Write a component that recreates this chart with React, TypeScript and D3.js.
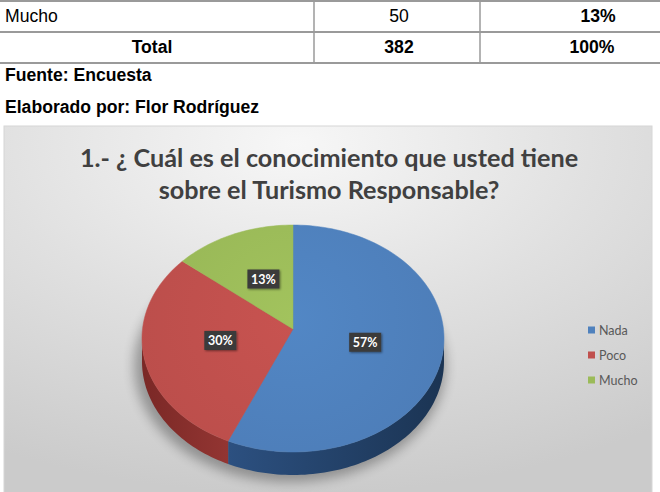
import React from 'react';
import * as d3 from 'd3';

const categories = ['Nada', 'Poco', 'Mucho'];
const counts = [218, 114, 50];
const percentLabels = ['57%', '30%', '13%'];
const topColors = ['#4F81BD', '#C0504D', '#9BBB59'];
const sideDark = ['#1B3453', '#7A2826', '#6E8A3A'];
const sideLight = ['#2C5080', '#933532', '#86A548'];

const tableRow = ['Mucho', '50', '13%'];
const tableTotal = ['Total', '382', '100%'];
const noteLines = ['Fuente: Encuesta', 'Elaborado por: Flor Rodríguez'];
const titleLines = ['1.- ¿ Cuál es el conocimiento que usted tiene', 'sobre el Turismo Responsable?'];

const W = 660;
const H = 492;

export default function App() {
  const cx = 293;
  const cy = 338.5;
  const rx = 151;
  const ry = 113.5;
  const depth = 23;
  const apex: [number, number] = [293, 329];

  const arcs = d3.pie<number>().value((d) => d).sort(null)(counts);
  const pt = (t: number, dy = 0): [number, number] => [cx + rx * Math.sin(t), cy - ry * Math.cos(t) + dy];
  const line = d3.line<[number, number]>();
  const sample = (a0: number, a1: number, dy = 0) => {
    const n = Math.max(8, Math.ceil(((a1 - a0) / (2 * Math.PI)) * 240));
    return d3.range(n + 1).map((i) => pt(a0 + ((a1 - a0) * i) / n, dy));
  };

  const tops = arcs.map((a) => line([apex, ...sample(a.startAngle, a.endAngle)]) + 'Z');
  const sides = arcs.map((a) => {
    const s0 = Math.max(a.startAngle, Math.PI / 2);
    const s1 = Math.min(a.endAngle, (3 * Math.PI) / 2);
    if (s0 >= s1) return null;
    const upper = sample(s0, s1);
    const lower = sample(s0, s1, depth).reverse();
    return { d: line([...upper, ...lower]) + 'Z', x0: Math.min(pt(s0)[0], pt(s1)[0]), x1: Math.max(pt(s0)[0], pt(s1)[0]) };
  });

  const labelPos = arcs.map((a) => {
    const m = (a.startAngle + a.endAngle) / 2;
    const k = 0.49;
    return [cx + k * rx * Math.sin(m), 330 - k * ry * Math.cos(m)];
  });

  const x0 = 4, y0 = 126;
  const legendY = d3.scalePoint<string>().domain(categories).range([330, 380]);

  const tableX = [0, 314, 480, 716];
  const tableY = [1, 32, 63];
  const fontSans = "'Liberation Sans', Arial, sans-serif";
  const fontCal = "Lato, 'Open Sans', sans-serif";

  return (
    <svg width={W} height={H} style={{ position: 'absolute', left: 0, top: 0 }} xmlns="http://www.w3.org/2000/svg">
      <defs>
        <radialGradient id="bg" cx="0.45" cy="0.05" r="0.95" fx="0.45" fy="0.05">
          <stop offset="0" stopColor="#f7f7f7" />
          <stop offset="0.5" stopColor="#e0e0e0" />
          <stop offset="1" stopColor="#cbcbcb" />
        </radialGradient>
        <filter id="blur" x="-30%" y="-30%" width="160%" height="160%">
          <feGaussianBlur stdDeviation="6" />
        </filter>
        <filter id="lblShadow" x="-30%" y="-30%" width="160%" height="160%">
          <feDropShadow dx="1" dy="1" stdDeviation="1.2" floodColor="#000" floodOpacity="0.45" />
        </filter>
        {sides.map((s, i) =>
          s ? (
            <linearGradient key={i} id={`side${i}`} gradientUnits="userSpaceOnUse" x1={s.x0} x2={s.x1} y1={0} y2={0}>
              <stop offset="0" stopColor={i === 1 ? sideDark[i] : sideLight[i]} />
              <stop offset="1" stopColor={i === 1 ? sideLight[i] : sideDark[i]} />
            </linearGradient>
          ) : null
        )}
        {topColors.map((c, i) => (
          <radialGradient key={i} id={`top${i}`} gradientUnits="userSpaceOnUse" cx={cx} cy={cy - 20} r={rx * 1.1}>
            <stop offset="0" stopColor={d3.color(c)!.brighter(0.12).formatHex()} />
            <stop offset="1" stopColor={d3.color(c)!.darker(0.08).formatHex()} />
          </radialGradient>
        ))}
      </defs>

      {/* table */}
      <g fontFamily={fontSans} fontSize={17.6} fill="#000">
        {tableY.map((y, i) => (
          <line key={i} x1={0} x2={W} y1={y} y2={y} stroke="#9a9a9a" strokeWidth={2} />
        ))}
        {tableX.slice(1, 3).map((x, i) => (
          <line key={i} x1={x} x2={x} y1={tableY[0]} y2={tableY[2]} stroke="#9a9a9a" strokeWidth={1.5} />
        ))}
        <text x={5} y={22}>{tableRow[0]}</text>
        <text x={(tableX[1] + tableX[2]) / 2 + 2} y={22} textAnchor="middle">{tableRow[1]}</text>
        <text x={(tableX[2] + tableX[3]) / 2} y={22} textAnchor="middle" fontWeight="bold">{tableRow[2]}</text>
        {tableTotal.map((t, i) => (
          <text key={i} x={i === 0 ? 152 : (tableX[i] + tableX[i + 1]) / 2 + (i === 1 ? 2 : -6)} y={53} textAnchor="middle" fontWeight="bold">{t}</text>
        ))}
        {noteLines.map((t, i) => (
          <text key={i} x={5} y={81 + i * 32} fontWeight="bold">{t}</text>
        ))}
      </g>

      {/* chart area */}
      <rect x={x0} y={y0} width={648} height={H - y0 + 2} fill="url(#bg)" stroke="#d6d6d6" strokeWidth={1} />

      <g fontFamily={fontCal} fontWeight={700} fontSize={25.2} fill="#404040" textAnchor="middle">
        {titleLines.map((t, i) => (
          <text key={i} x={329} y={167 + i * 32}>{t}</text>
        ))}
      </g>

      {/* shadow */}
      <ellipse cx={cx - 3} cy={cy + depth + 4} rx={rx + 5} ry={ry + 3} fill="#000" opacity={0.3} filter="url(#blur)" />

      {/* sides */}
      {sides.map((s, i) => (s ? <path key={i} d={s.d} fill={`url(#side${i})`} /> : null))}

      {/* top faces */}
      {tops.map((d, i) => (
        <path key={i} d={d} fill={`url(#top${i})`} stroke={topColors[i]} strokeWidth={0.5} />
      ))}

      {/* labels */}
      {labelPos.map(([x, y], i) => (
        <g key={i}>
          <rect x={x - 16} y={y - 9.5} width={32} height={19} fill="#3b3b3b" filter="url(#lblShadow)" />
          <text x={x} y={y + 4.5} textAnchor="middle" fontFamily={fontCal} fontWeight={700} fontSize={12.5} fill="#ffffff">
            {percentLabels[i]}
          </text>
        </g>
      ))}

      {/* legend */}
      <g fontFamily={fontCal} fontSize={12.5} fill="#595959">
        {categories.map((c, i) => (
          <g key={c}>
            <rect x={588} y={legendY(c)! - 3.5} width={7} height={7} fill={topColors[i]} />
            <text x={599} y={legendY(c)! + 4.5}>{c}</text>
          </g>
        ))}
      </g>
    </svg>
  );
}
